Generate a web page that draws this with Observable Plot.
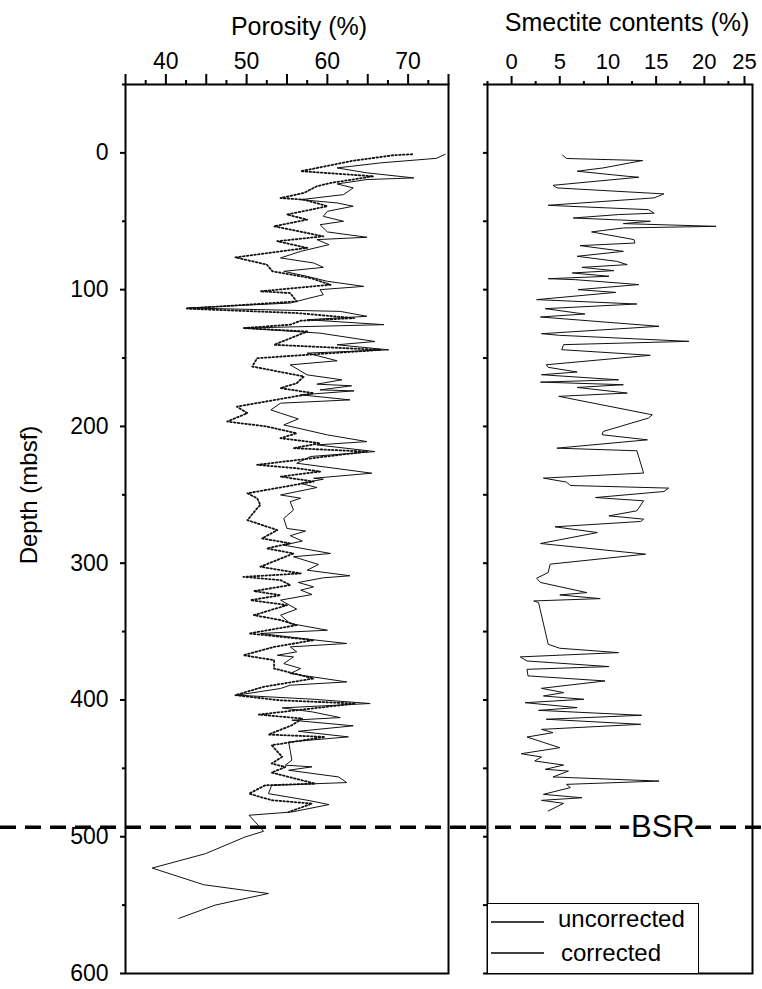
<!DOCTYPE html>
<html><head><meta charset="utf-8">
<script src="https://cdn.jsdelivr.net/npm/d3@7"></script>
<script src="https://cdn.jsdelivr.net/npm/@observablehq/plot@0.6"></script>
<style>
body{margin:0;background:#fff;}
#wrap{position:relative;width:762px;height:989px;font-family:"Liberation Sans",Arial,sans-serif;color:#000;overflow:hidden;}
.abs{position:absolute;white-space:nowrap;line-height:1;}
.abs svg{overflow:visible;}
</style></head><body><div id="wrap"></div>
<script>
// ---- data ----
const uncDepth = [1,4,7.3,11.0,14.6,18.3,19.5,22.7,25.6,30.5,34.2,36.6,39.0,42.7,46.4,50.0,52.5,57.8,61.7,63.4,67.1,72.0,76.8,80.5,83.7,86.6,90.3,93.9,97.6,100.0,103.7,106.6,109.8,113.4,115.9,119.5,122.0,125.6,128.1,131.8,137.9,140.3,144.0,146.4,152.0,155.0,162.3,165.9,169.1,170.3,173.3,174.0,176.9,180.6,183.0,187.9,190.3,194.5,198.9,206.2,211.1,213.5,218.4,222.0,226.9,234.2,237.9,238.6,241.6,244.7,247.7,250.1,252.5,255.0,261.1,267.3,274.6,276.5,279.9,283.8,286.8,292.9,295.3,300.9,305.1,309.2,310.7,314.1,317.3,319.7,322.9,327.0,333.6,338.0,344.1,349.0,351.4,356.3,358.7,361.2,364.8,367.3,368.5,373.4,377.0,380.7,386.8,389.2,391.6,396.5,399.4,402.6,405.8,408.7,412.9,414.8,418.9,422.9,427.0,430.7,437.0,444.1,447.7,448.9,451.4,456.3,460.4,462.4,468.5,473.3,476.5,481.9,484.3,496.0,500.2,512.4,522.9,535.1,541.5,550.0,559.7];
const uncPorosity = [74.6,73.5,66.6,61.2,64.9,70.7,64.9,61.2,63.2,62.0,56.7,61.2,63.2,60.0,59.5,62.0,59.1,60.0,64.9,58.7,60.2,56.7,54.2,58.3,59.5,54.6,57.5,60.0,64.5,59.1,59.5,57.5,55.4,42.6,61.6,64.9,57.5,67.0,49.6,59.1,65.9,61.2,67.6,57.5,61.2,55.4,57.5,61.8,58.7,63.0,59.1,63.3,56.7,62.8,54.2,53.0,54.2,56.4,54.6,60.0,64.9,58.7,65.9,57.9,56.2,65.5,58.3,59.5,56.7,58.7,56.2,54.2,56.7,55.4,55.8,54.6,55.0,57.3,55.4,56.9,54.6,60.4,55.8,58.9,57.5,62.8,59.5,56.4,58.3,56.7,58.1,54.2,56.2,54.2,55.4,60.0,51.7,58.7,62.4,55.4,56.2,53.8,55.8,54.6,56.7,55.4,62.4,55.4,54.2,48.8,58.1,65.3,54.4,58.1,61.6,55.6,63.2,56.4,62.6,55.2,55.4,55.6,54.8,58.1,55.2,61.4,62.4,53.1,52.7,57.5,60.2,55.6,50.3,52.1,49.8,44.9,38.3,44.7,52.7,46.1,41.6];

const corDepth = [1,1.7,5.6,13.4,17.1,22.0,24.4,29.3,33.0,34.2,39.0,45.1,48.8,53.7,61.0,64.6,69.5,76.4,81.7,86.6,91.5,96.4,101.2,102.5,108.6,113.9,117.1,120.8,122.7,125.6,128.1,130.6,140.3,144.0,150.1,156.2,163.5,168.4,172.0,175.7,185.5,190.3,196.4,200.1,205.0,208.6,212.3,215.9,218.4,228.1,230.6,233.0,236.7,240.3,248.9,252.5,257.4,259.9,268.5,275.8,281.9,285.5,289.2,292.9,302.6,307.5,310.0,312.4,316.0,320.4,323.4,327.0,330.7,338.0,341.6,345.3,351.4,356.3,361.2,367.3,370.9,377.0,384.3,390.4,396.5,400.2,402.6,410.7,413.6,418.5,425.3,427.0,433.1,441.6,446.5,449.0,453.1,461.2,462.4,468.5,473.3,475.8,481.9];
const corPorosity = [70.5,68.2,63.3,56.7,65.7,60.4,58.7,57.1,54.2,57.1,60.0,55.0,57.5,53.4,59.5,53.8,57.5,48.6,52.5,53.2,57.9,60.4,51.7,55.4,56.2,42.6,56.2,63.3,56.7,55.4,49.6,57.5,53.4,66.6,51.3,50.7,57.1,56.2,54.2,58.3,48.8,50.1,47.6,52.5,56.2,54.2,59.1,55.8,64.9,51.3,56.2,59.1,54.2,58.3,50.1,51.3,51.7,51.3,50.1,53.8,51.9,55.4,52.5,55.8,51.7,56.7,49.6,54.2,55.4,50.9,54.2,50.5,55.0,50.9,54.2,56.2,50.3,58.3,53.4,49.6,53.4,53.4,58.3,52.1,48.6,54.0,63.5,51.5,56.9,55.6,52.7,59.7,53.1,54.4,53.1,54.8,53.1,58.5,52.3,50.3,53.1,58.1,55.2];

const smeDepth = [1.7,4.1,5.6,11.0,13.4,17.1,17.8,23.7,25.6,30.0,32.9,38.3,38.8,41.5,44.1,45.1,47.6,50.0,51.7,53.7,54.9,56.8,57.8,63.4,65.9,67.8,72.0,75.6,79.3,81.7,83.7,86.1,87.8,90.2,92.0,92.7,96.3,100.0,102.0,107.3,110.5,113.9,117.1,117.8,120.0,126.8,132.2,133.4,137.8,140.2,143.9,148.0,154.9,156.8,160.2,162.2,165.9,167.6,169.5,171.5,175.6,178.0,191.5,193.9,203.7,206.1,209.8,215.9,217.8,234.1,237.8,240.7,243.2,245.1,247.6,252.0,254.4,261.7,265.4,267.8,269.5,273.4,277.6,285.6,293.4,300.7,306.8,311.0,314.1,321.5,323.2,325.9,327.6,328.8,359.3,362.2,365.4,368.5,371.5,375.6,377.6,382.4,386.1,391.5,394.6,397.1,399.5,402.0,405.6,407.6,411.2,414.1,417.8,421.5,423.9,427.1,434.9,439.3,441.7,444.6,447.6,450.7,452.0,456.3,459.3,461.7,464.1,469.0,471.5,473.4,475.6,481.2];
const smeContent = [5.3,5.7,13.6,9.5,6.8,12.0,13.2,4.3,4.7,15.8,14.8,3.8,5.2,14.2,14.8,11.1,6.4,14.4,11.6,21.2,11.6,9.4,8.3,12.7,12.8,7.1,11.6,6.8,10.9,12.0,7.3,10.6,6.3,10.1,3.8,6.6,13.2,6.9,10.8,2.6,13.0,3.5,6.8,7.6,3.0,15.3,3.1,5.0,18.4,5.4,5.2,14.4,3.6,3.8,6.8,3.1,11.1,3.0,11.6,6.8,12.0,4.9,14.6,14.2,9.5,9.4,14.1,4.7,13.0,13.7,3.3,5.7,6.1,16.3,15.8,8.7,13.7,13.0,10.1,13.7,13.4,4.5,8.9,3.0,13.9,4.0,3.8,2.6,3.0,7.8,5.0,9.2,2.3,2.8,3.8,5.0,11.1,0.9,1.6,10.1,1.6,1.7,9.7,3.1,5.4,3.3,7.5,1.4,6.8,2.8,13.5,3.6,13.4,3.1,4.3,1.6,5.0,1.0,3.1,2.4,5.4,3.5,5.9,4.3,15.3,5.7,6.1,3.3,7.3,3.1,5.4,3.8];

const porLabelTicks = [40, 50, 60, 70];
const porMajorTicks = [35, 45, 55, 65, 75];
const porMinorTicks = [37.5, 42.5, 47.5, 52.5, 57.5, 62.5, 67.5, 72.5];
const smeLabelTicks = [0, 5, 10, 15, 20];
const smeEdgeTicks = [25];
const smeMinorTicks = [-2.5, 2.5, 7.5, 12.5, 17.5, 22.5];
const depthTicks = [0, 100, 200, 300, 400, 500, 600];
const depthMinorTicks = [-50, 50, 150, 250, 350, 450, 550];
const bsrDepth = [493];
const bsrLabel = ["BSR"];
const seriesNames = ["uncorrected", "corrected"];
const titles = ["Porosity (%)", "Smectite contents (%)", "Depth (mbsf)"];

// ---- tables ----
const unc = uncDepth.map((d, i) => ({d, p: uncPorosity[i]}));
const cor = corDepth.map((d, i) => ({d, p: corPorosity[i]}));
const sme = smeDepth.map((d, i) => ({d, s: smeContent[i]}));

const FONT = '"Liberation Sans", Arial, sans-serif';
const H = 989, MT = 84, MB = 16;
const blank = () => "";
const styleObj = {fontFamily: FONT, fontSize: "22px", background: "transparent", overflow: "visible", color: "#000"};

const leftPlot = Plot.plot({
  width: 470, height: H, marginTop: MT, marginBottom: MB, marginLeft: 125, marginRight: 22,
  style: styleObj,
  x: {domain: [35, 75]},
  y: {domain: [-50, 600], reverse: true},
  marks: [
    Plot.axisX({anchor: "top", ticks: porLabelTicks, tickSize: 11, tickPadding: 5, strokeWidth: 2, label: null, fontSize: 23}),
    Plot.axisX({anchor: "top", ticks: porMajorTicks, tickSize: 11, tickFormat: blank, strokeWidth: 2, label: null}),
    Plot.axisX({anchor: "top", ticks: porMinorTicks, tickSize: 5, tickFormat: blank, strokeWidth: 2, label: null}),
    Plot.axisY({anchor: "left", ticks: depthTicks, tickSize: 5, tickPadding: 12, strokeWidth: 2, label: null, fontSize: 23}),
    Plot.axisY({anchor: "left", ticks: depthMinorTicks, tickSize: 3, tickFormat: blank, strokeWidth: 2, label: null}),
    Plot.line(cor, {x: "p", y: "d", stroke: "#111", strokeWidth: 1.8, strokeDasharray: "1.6,2.2"}),
    Plot.line(unc, {x: "p", y: "d", stroke: "#111", strokeWidth: 1}),
    Plot.ruleY(bsrDepth, {insetLeft: -125, insetRight: -22, stroke: "#000", strokeWidth: 3.5, strokeDasharray: "16,9"}),
    Plot.frame({stroke: "#000", strokeWidth: 2})
  ]
});

const rightPlot = Plot.plot({
  width: 292, height: H, marginTop: MT, marginBottom: MB, marginLeft: 17, marginRight: 10,
  style: styleObj,
  x: {domain: [-2.5, 25]},
  y: {domain: [-50, 600], reverse: true},
  marks: [
    Plot.axisX({anchor: "top", ticks: smeLabelTicks, tickSize: 9, tickPadding: 7, strokeWidth: 2, label: null, fontSize: 22}),
    Plot.axisX({anchor: "top", ticks: smeEdgeTicks, tickSize: 9, tickPadding: 7, strokeWidth: 2, label: null, fontSize: 22, dx: -8}),
    Plot.axisX({anchor: "top", ticks: smeMinorTicks, tickSize: 4, tickFormat: blank, strokeWidth: 2, label: null}),
    Plot.axisY({anchor: "left", ticks: depthTicks.concat(depthMinorTicks), tickSize: 4, tickFormat: blank, strokeWidth: 2, label: null}),
    Plot.line(sme, {x: "s", y: "d", stroke: "#111", strokeWidth: 1}),
    Plot.ruleY(bsrDepth, {insetLeft: -17, insetRight: -10, stroke: "#000", strokeWidth: 3.5, strokeDasharray: "16,9"}),
    Plot.text(bsrDepth, {x: () => 15.7, y: d => d, text: () => bsrLabel[0], fontSize: 31, fill: "#000", stroke: "#fff", strokeWidth: 9, paintOrder: "stroke"}),
    Plot.frame({stroke: "#000", strokeWidth: 2})
  ]
});

const wrap = document.getElementById("wrap");
function place(el, left, top) {
  const d = document.createElement("div");
  d.className = "abs";
  d.style.left = left + "px"; d.style.top = top + "px";
  d.appendChild(el);
  wrap.appendChild(d);
  return d;
}
place(leftPlot, 0, 0);
place(rightPlot, 470, 0);

function label(text, x, y, size, rotate) {
  const d = document.createElement("div");
  d.className = "abs";
  d.textContent = text;
  d.style.fontSize = size + "px";
  d.style.left = x + "px"; d.style.top = y + "px";
  d.style.transform = "translate(-50%,-50%)" + (rotate ? " rotate(-90deg)" : "");
  wrap.appendChild(d);
}
label(titles[0], 299, 26, 25);
label(titles[1], 627, 22, 25);
label(titles[2], 29, 495, 24, true);

// legend
const lg = document.createElement("div");
lg.className = "abs";
lg.style.left = "487px"; lg.style.top = "903px";
lg.style.width = "210px"; lg.style.height = "69px";
lg.style.border = "1px solid #000"; lg.style.background = "#fff";
lg.innerHTML = `<svg width="210" height="69" style="position:absolute;left:0;top:0">
  <line x1="3" x2="56" y1="18" y2="18" stroke="#000" stroke-width="1.5"/>
  <line x1="3" x2="56" y1="49" y2="49" stroke="#000" stroke-width="1.5"/>
  <text x="70" y="23" font-size="24" font-family='${FONT}'>${seriesNames[0]}</text>
  <text x="73" y="57" font-size="24" font-family='${FONT}'>${seriesNames[1]}</text>
</svg>`;
wrap.appendChild(lg);
</script></body></html>
